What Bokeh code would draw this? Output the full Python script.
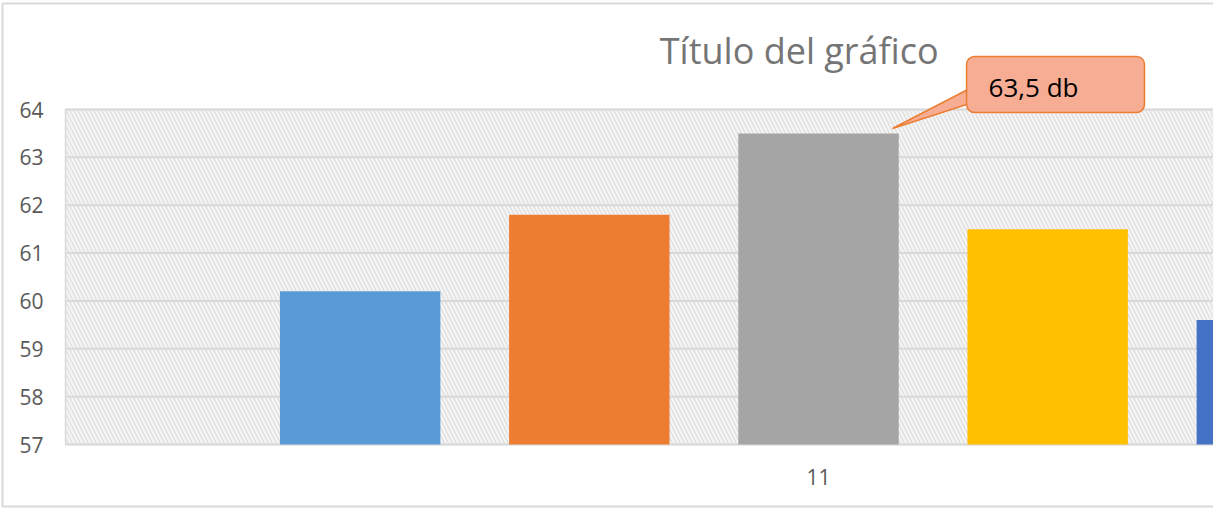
from bokeh.plotting import figure
from bokeh.models import Range1d, BoxAnnotation, Label, ColumnDataSource
from bokeh.core.properties import value
from bokeh.embed import file_html
from bokeh.resources import INLINE

# ---- data ----
title_text = "Título del gráfico"
categories = ["11"]
series_names = ["Serie1", "Serie2", "Serie3", "Serie4", "Serie5"]
values = [60.2, 61.8, 63.5, 61.5, 59.6]
colors = ["#5b9bd5", "#ed7d31", "#a5a5a5", "#ffc000", "#4472c4"]
y_ticks = [57, 58, 59, 60, 61, 62, 63, 64]
y_tick_labels = [str(t) for t in y_ticks]
unit = "db"

# ---- layout constants (pixels -> data) ----
W, H = 1213, 508
px_x = 229.17          # pixels per bar slot
px_y = 335 / 7         # pixels per y unit
y_min, y_max = y_ticks[0], y_ticks[-1]
xs = list(range(len(values)))
group_center = (len(values) - 1) / 2

plot_left = group_center - 753 / px_x          # left edge of plot area
x_start = group_center - 818 / px_x
x_end = group_center + (W - 818) / px_x
y_end = y_max + 109 / px_y
y_start = y_min - (H - 444) / px_y

src = ColumnDataSource(dict(x=xs, top=values, color=colors, name=series_names))

p = figure(width=W, height=H, output_backend="svg", toolbar_location=None,
           x_range=Range1d(x_start, x_end), y_range=Range1d(y_start, y_end),
           min_border=0, x_axis_location=None, y_axis_location=None)
p.outline_line_color = None
p.background_fill_color = "white"
p.border_fill_color = "white"
p.grid.visible = False

# outer chart border
p.add_layout(BoxAnnotation(left=2, right=W + 30, top=3, bottom=H - 2,
                           left_units="canvas", right_units="canvas",
                           top_units="canvas", bottom_units="canvas",
                           fill_alpha=0, line_color="#d9d9d9", line_alpha=1, line_width=2,
                           level="underlay"))
# plot-area hatch background
p.add_layout(BoxAnnotation(left=plot_left, bottom=y_min, top=y_max, fill_color="#f8f8f8", fill_alpha=1,
                           hatch_pattern="\\", hatch_color="#e4e4e4", hatch_scale=8, hatch_weight=2,
                           hatch_alpha=1, line_color="#d9d9d9", line_alpha=1, line_width=1.5,
                           level="underlay"))

# horizontal gridlines
p.segment(x0=[plot_left] * len(y_ticks), x1=[x_end + 1] * len(y_ticks), y0=y_ticks, y1=y_ticks,
          line_color="#d9d9d9", line_width=2)

# bars
p.vbar(x="x", top="top", bottom=y_min, width=0.7, fill_color="color", line_color=None, source=src)

# y tick labels
p.text(x=[plot_left - 22 / px_x] * len(y_ticks), y=y_ticks, text=y_tick_labels,
       text_align="right", text_baseline="middle", text_font=value("Open Sans"),
       text_font_size="21px", text_color="#595959")
# category label
p.text(x=[group_center], y=[y_min - 32.5 / px_y], text=categories,
       text_align="center", text_baseline="middle", text_font=value("Open Sans"),
       text_font_size="21px", text_color="#595959")

# title
p.add_layout(Label(x=group_center - 19.3 / px_x, y=y_max + 59 / px_y, text=title_text, text_align="center",
                   text_baseline="alphabetic", text_font="Open Sans", text_font_size="36px",
                   text_color="#757575"))

# callout on max bar
imax = max(range(len(values)), key=lambda i: values[i])
vmax = values[imax]
bx = xs[imax]
tip_x, tip_y = bx + 0.323, vmax + 0.103
base_x = bx + 0.66
p.patch(x=[tip_x, base_x, base_x], y=[tip_y, vmax + 0.939, vmax + 0.625],
        fill_color="#f6ad93", line_color="#ed7d31", line_width=1.5)
p.add_layout(BoxAnnotation(left=bx + 0.646, right=bx + 1.4225, bottom=vmax + 0.437, top=vmax + 1.6075,
                           fill_color="#f6ad93", fill_alpha=1, line_color="#ed7d31", line_alpha=1,
                           line_width=1.5, border_radius=8))
label_txt = f"{vmax:.1f}".replace(".", ",") + " " + unit
p.add_layout(Label(x=bx + 0.742, y=vmax + 0.751 + 10 / px_y, text=label_txt, text_align="left",
                   text_baseline="alphabetic", text_font="Open Sans", text_font_size="26px",
                   text_color="black"))

open("out.html", "w").write(file_html(p, INLINE))
